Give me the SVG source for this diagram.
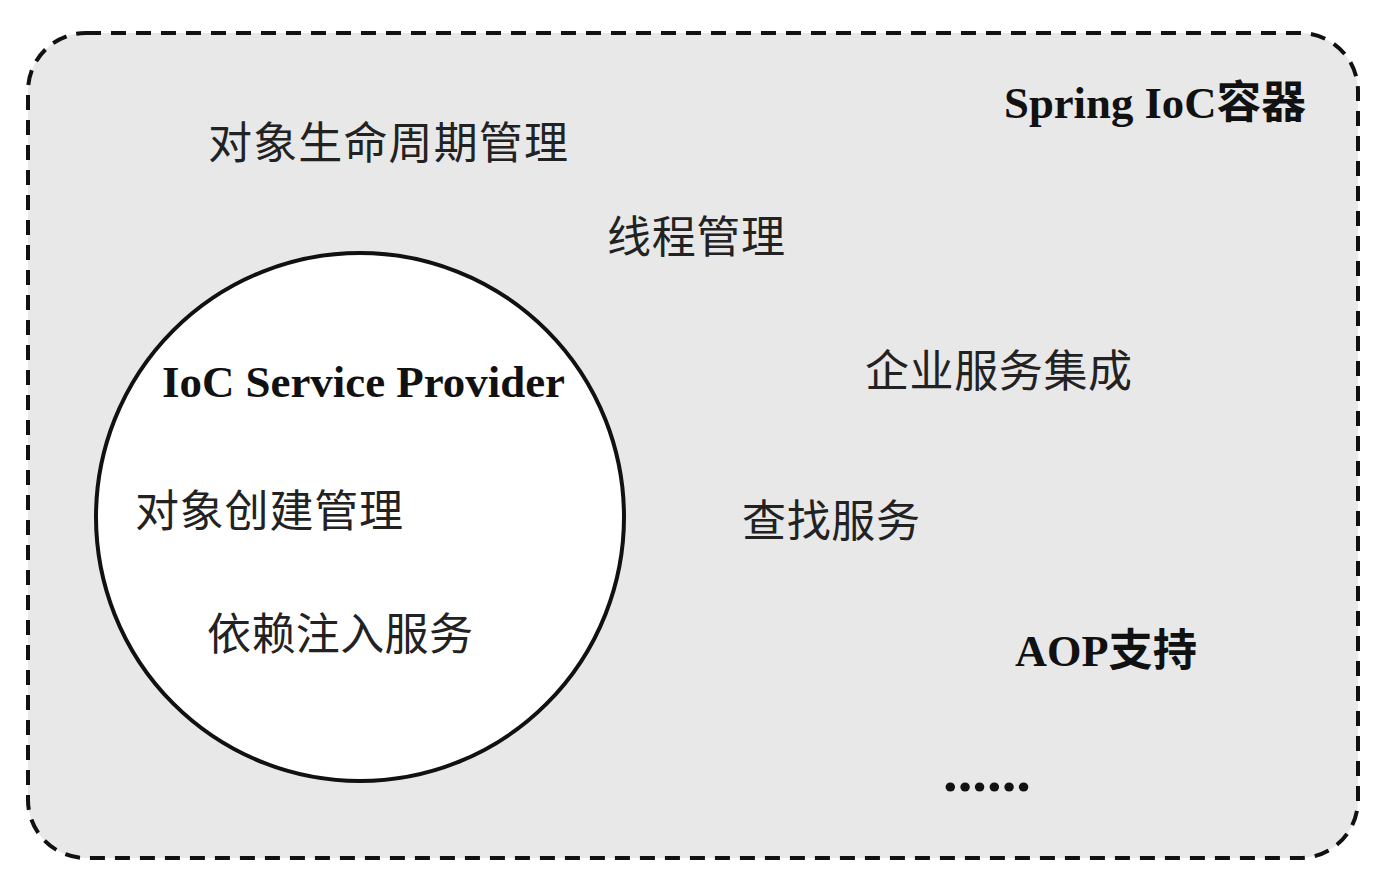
<svg xmlns="http://www.w3.org/2000/svg" width="1386" height="880" viewBox="0 0 1386 880">
<style>
.cjk{font-family:"Liberation Serif","Noto Sans CJK SC",serif;font-size:44px;fill:#222}
.bold{font-family:"Liberation Serif","Noto Sans CJK SC",serif;font-size:44px;font-weight:bold;fill:#111}
</style>
<rect width="1386" height="880" fill="#ffffff"/>
<g id="container">
<rect x="28" y="33" width="1330" height="825" rx="58" ry="58" fill="#e8e8e8" stroke="#111" stroke-width="4" stroke-dasharray="15 10"/>
<text class="bold" x="1004" y="118" textLength="302" lengthAdjust="spacingAndGlyphs">Spring IoC容器</text>
</g>
<g id="lifecycle"><text class="cjk" x="208" y="159" textLength="360">对象生命周期管理</text></g>
<g id="thread"><text class="cjk" x="607" y="253" textLength="178">线程管理</text></g>
<g id="enterprise"><text class="cjk" x="865" y="387" textLength="267">企业服务集成</text></g>
<g id="lookup"><text class="cjk" x="742" y="537" textLength="178">查找服务</text></g>
<g id="aop"><text class="bold" x="1015" y="666" textLength="182" lengthAdjust="spacingAndGlyphs">AOP支持</text></g>
<g id="more"><text class="bold" x="943" y="791" style="font-size:54px" textLength="88" lengthAdjust="spacingAndGlyphs">......</text></g>
<g id="provider">
<circle cx="360" cy="517" r="264" fill="#ffffff" stroke="#111" stroke-width="4"/>
<text class="bold" x="162" y="397" textLength="403" lengthAdjust="spacingAndGlyphs">IoC Service Provider</text>
<text class="cjk" x="135" y="527" textLength="268">对象创建管理</text>
<text class="cjk" x="207" y="650" textLength="266">依赖注入服务</text>
</g>
<g id="connectors"></g>
</svg>
